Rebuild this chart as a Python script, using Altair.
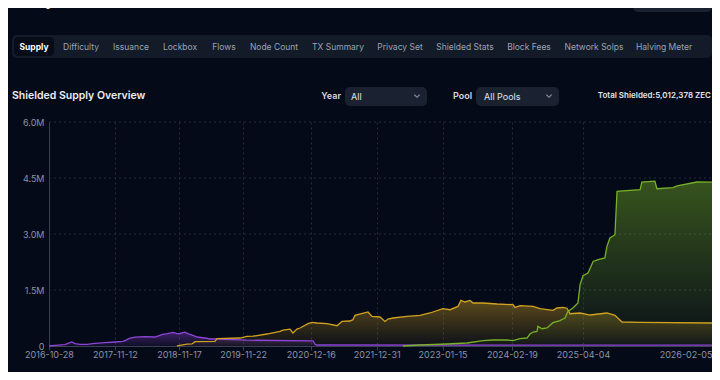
import altair as alt
import pandas as pd

# ---------------- data ----------------
sprout_dates = ["2016-10-28", "2016-12-02", "2017-01-28", "2017-03-08", "2017-03-27", "2017-04-25",
                "2017-06-05", "2017-07-20", "2017-09-16", "2017-11-13", "2017-12-30", "2018-01-21",
                "2018-02-07", "2018-03-08", "2018-05-05", "2018-07-01", "2018-08-15", "2018-09-10",
                "2018-10-13", "2018-11-05", "2018-11-23", "2018-12-21", "2019-01-07", "2019-02-05",
                "2019-03-01", "2019-04-16", "2019-05-15", "2019-06-24", "2019-12-14", "2020-12-29",
                "2021-01-09", "2021-01-21", "2026-02-05"]
sprout_values = [0, 16000, 35000, 107000, 62000, 43000,
                 45000, 70000, 88000, 107000, 123000, 170000,
                 214000, 236000, 249000, 241000, 311000, 330000,
                 364000, 330000, 335000, 370000, 330000, 284000,
                 241000, 214000, 188000, 188000, 155000, 140000,
                 48000, 27000, 21000]

sapling_dates = ["2018-11-05", "2019-01-02", "2019-01-31", "2019-02-17", "2019-06-12", "2019-06-24",
                 "2019-11-04", "2019-12-14", "2020-01-18", "2020-04-07", "2020-06-21", "2020-07-09",
                 "2020-08-18", "2020-09-04", "2020-09-27", "2020-10-15", "2020-11-30", "2020-12-23",
                 "2021-01-21", "2021-03-19", "2021-05-16", "2021-06-14", "2021-07-30", "2021-08-16",
                 "2021-08-28", "2021-11-11", "2021-12-04", "2022-01-19", "2022-02-17", "2022-03-06",
                 "2022-04-04", "2022-06-24", "2022-09-07", "2022-11-03", "2023-01-17", "2023-02-27",
                 "2023-04-14", "2023-05-01", "2023-05-24", "2023-06-22", "2023-07-10", "2023-09-05",
                 "2023-11-25", "2024-02-25", "2024-03-08", "2024-04-06", "2024-06-20", "2024-07-30",
                 "2024-10-13", "2024-11-05", "2024-12-10", "2025-01-02", "2025-01-19", "2025-03-18",
                 "2025-04-21", "2025-05-31", "2025-06-19", "2025-07-06", "2025-08-18", "2026-02-05"]
sapling_values = [5000, 48000, 54000, 115000, 123000, 196000,
                  214000, 257000, 263000, 321000, 391000, 423000,
                  450000, 348000, 455000, 482000, 597000, 632000,
                  616000, 597000, 544000, 659000, 670000, 704000,
                  820000, 911000, 793000, 777000, 659000, 723000,
                  750000, 793000, 820000, 884000, 999000, 972000,
                  1061000, 1221000, 1179000, 1221000, 1152000, 1152000,
                  1125000, 1106000, 1034000, 1079000, 1061000, 999000,
                  954000, 1018000, 1034000, 1012000, 865000, 884000,
                  830000, 884000, 820000, 643000, 632000, 616000]

orchard_dates = ["2022-06-01", "2022-09-07", "2023-02-10", "2023-06-05", "2023-09-05", "2023-11-02",
                 "2024-01-22", "2024-02-25", "2024-04-06", "2024-05-16", "2024-06-02", "2024-06-20",
                 "2024-07-13", "2024-07-18", "2024-08-10", "2024-09-08", "2024-10-13", "2024-11-22",
                 "2024-12-10", "2024-12-21", "2025-01-07", "2025-02-05", "2025-03-06", "2025-03-18",
                 "2025-04-04", "2025-04-16", "2025-04-28", "2025-05-10", "2025-05-26", "2025-05-31",
                 "2025-06-07", "2025-06-19", "2025-06-24", "2025-08-18", "2025-08-22", "2025-09-22",
                 "2025-09-27", "2025-11-04", "2025-11-14", "2025-12-31", "2026-02-05"]
orchard_values = [0, 27000, 54000, 80000, 142000, 161000,
                  161000, 142000, 196000, 214000, 321000, 375000,
                  391000, 525000, 463000, 482000, 624000, 678000,
                  723000, 750000, 927000, 1018000, 1152000, 1642000,
                  1883000, 1955000, 2266000, 2312000, 2357000, 2668000,
                  2893000, 2981000, 4141000, 4187000, 4393000, 4414000,
                  4213000, 4240000, 4288000, 4393000, 4387000]

x_tick_labels = ["2016-10-28", "2017-11-12", "2018-11-17", "2019-11-22", "2020-12-16",
                 "2021-12-31", "2023-01-15", "2024-02-19", "2025-04-04", "2026-02-05"]
x_break_dates = ["2016-10-28", "2025-04-04", "2026-02-05"]
y_tick_values = [0, 1500000, 3000000, 4500000, 6000000]

tab_names = ["Supply", "Difficulty", "Issuance", "Lockbox", "Flows", "Node Count", "TX Summary",
             "Privacy Set", "Shielded Stats", "Block Fees", "Network Solps", "Halving Meter"]
page_title = "Analytics Charts"
chart_title = "Shielded Supply Overview"
total_text = "Total Shielded:5,012,378 ZEC"

# ---------------- layout / style ----------------
tab_centers = [34, 81, 131, 180, 224, 274, 338, 400, 465, 529, 594, 664]
OX, OY = 49, 122          # page position of plot origin
PW, PH = 663, 224         # plot size
X_RANGE = [0, 534, PW]    # axis is stretched after the 2025-04-04 label, as in the reference
FONT = "Inter"
BG = "#050a18"
BAR = "#131a28"
ACTIVE = "#070c19"
DROP = "#1a2130"
AXIS_C = "#3a4152"
GRID_C = "#232c3e"
LABEL_C = "#8a94a8"


def to_ms(dates):
    return [int(pd.Timestamp(d, tz="UTC").timestamp() * 1000) for d in dates]


one = alt.Data(values=[{"a": 1}])


def ui_rect(x0, y0, x1, y1, fill, r=4):
    return alt.Chart(one).mark_rect(fill=fill, cornerRadius=r).encode(
        x=alt.value(x0 - OX), x2=alt.value(x1 - OX),
        y=alt.value(y0 - OY), y2=alt.value(y1 - OY))


def ui_text(txt, x, y, size, color, weight="normal", align="left", baseline="middle"):
    return alt.Chart(one).mark_text(
        text=txt, fontSize=size, color=color, fontWeight=weight, align=align,
        baseline=baseline, font=FONT).encode(x=alt.value(x - OX), y=alt.value(y - OY))


def chevron(x, y):
    return alt.Chart(one).mark_point(
        shape="M-1,-0.5L0,0.5L1,-0.5", filled=False, size=28, strokeWidth=1.1,
        color=LABEL_C, opacity=1).encode(x=alt.value(x - OX), y=alt.value(y - OY))


x_scale = alt.Scale(domain=to_ms(x_break_dates), range=X_RANGE, nice=False, zero=False)
y_scale = alt.Scale(domain=[0, 6000000], nice=False)

x_axis = alt.Axis(
    values=to_ms(x_tick_labels),
    labelExpr="utcFormat(datum.value, '%Y-%m-%d')",
    labelFlush=False, labelOverlap=False,
    labelAlign={"condition": {"test": "datum.value > 1767225600000", "value": "right"}, "value": "center"},
    grid=True, gridDash=[2, 3], gridColor=GRID_C,
    domainColor=AXIS_C, tickColor=AXIS_C, tickSize=4,
    labelColor=LABEL_C, labelFontSize=9, labelFont=FONT, labelPadding=0, title=None)
y_axis = alt.Axis(
    values=y_tick_values,
    labelExpr="datum.value == 0 ? '0' : format(datum.value / 1000000, '.1f') + 'M'",
    grid=False,
    domainColor=AXIS_C, ticks=False, labelPadding=5,
    labelColor=LABEL_C, labelFontSize=9, labelFont=FONT, title=None)


def grad(r, g, b, top, bottom):
    return alt.Gradient(gradient="linear", x1=1, x2=1, y1=0, y2=1, stops=[
        alt.GradientStop(color=f"rgba({r},{g},{b},{top})", offset=0),
        alt.GradientStop(color=f"rgba({r},{g},{b},{bottom})", offset=1)])


series = [
    (sprout_dates, sprout_values, "#8e44d9", grad(142, 68, 217, 0.4, 0.08)),
    (sapling_dates, sapling_values, "#d2a21f", grad(210, 162, 31, 0.42, 0.04)),
    (orchard_dates, orchard_values, "#76b126", grad(116, 173, 36, 0.45, 0.04)),
]

# horizontal dashed grid across the whole plot width
grid_df = pd.DataFrame({"value": y_tick_values[1:]})
hgrid = alt.Chart(grid_df).mark_rule(color=GRID_C, strokeDash=[2, 3], strokeWidth=1).encode(
    y=alt.Y("value:Q", scale=y_scale, axis=y_axis),
    x=alt.value(0), x2=alt.value(PW))

areas, lines = [], []
for dates, vals, col, fill in series:
    df = pd.DataFrame({"date": dates, "t": to_ms(dates), "value": vals})
    enc = dict(x=alt.X("t:Q", scale=x_scale, axis=x_axis),
               y=alt.Y("value:Q", scale=y_scale, axis=y_axis))
    areas.append(alt.Chart(df).mark_area(color=fill).encode(**enc))
    lines.append(alt.Chart(df).mark_line(color=col, strokeWidth=1.3).encode(**enc))

ui = [
    ui_text(page_title, 12, 6, 15, "#f1f3f6", weight="bold", baseline="alphabetic"),
    ui_rect(633, -8, 712, 12, DROP, 5),
    ui_text("Shielded", 640, 3, 9, "#d5d9e0"),
    chevron(703, 3),
    ui_rect(12, 35, 712, 58, BAR, 5),
    ui_rect(14, 37, 54, 56, ACTIVE, 4),
]
for name, cx in zip(tab_names, tab_centers):
    active = name == "Supply"
    ui.append(ui_text(name, cx, 46.5, 8.5, "#ffffff" if active else "#9aa3b3",
                      weight="bold" if active else "normal", align="center"))
ui += [
    ui_text(chart_title, 12, 96, 10.5, "#eceef2", weight=600),
    ui_text("Year", 341, 96, 9, "#d5d9e0", weight=600, align="right"),
    ui_rect(345, 87, 427, 106, DROP, 5),
    ui_text("All", 351, 96.5, 9, "#e2e5ea"),
    chevron(417, 96),
    ui_text("Pool", 472, 96, 9, "#d5d9e0", weight=600, align="right"),
    ui_rect(476, 87, 559, 106, DROP, 5),
    ui_text("All Pools", 484, 96.5, 9, "#e2e5ea"),
    chevron(549, 96),
    ui_text(total_text, 711, 96, 8, "#e2e5ea", weight=600, align="right"),
]

chart = alt.layer(*ui, hgrid, *areas, *lines).properties(
    width=PW, height=PH, background=BG,
    padding={"left": 41, "top": 114, "right": 0, "bottom": 26},
    autosize=alt.AutoSizeParams(type="none"),
).configure(font=FONT, view=alt.ViewConfig(stroke=None))

chart.save("out.html", embed_options={"renderer": "svg", "actions": False})
